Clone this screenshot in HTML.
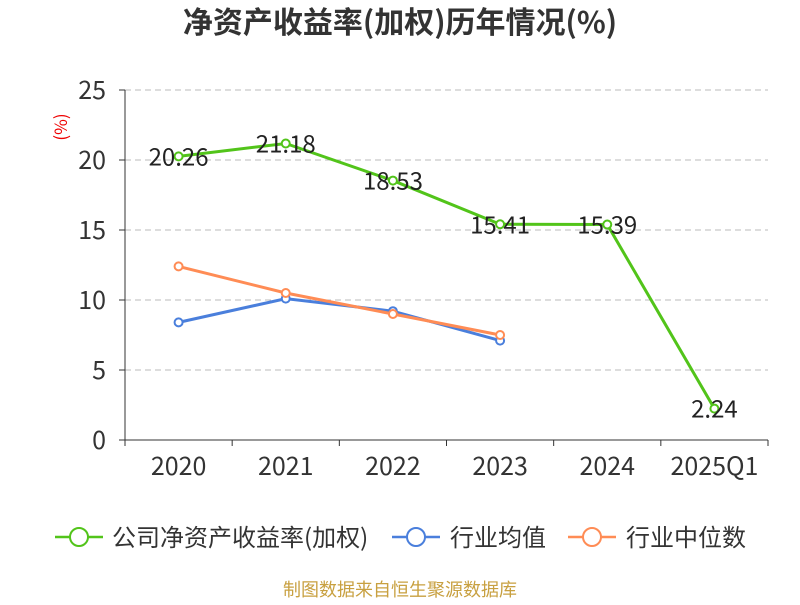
<!DOCTYPE html>
<html><head><meta charset="utf-8"><style>
body{margin:0;background:#fff;font-family:"Noto Sans CJK SC","Liberation Sans",sans-serif;}
</style></head><body>
<svg id="chart" width="800" height="600" xmlns="http://www.w3.org/2000/svg" font-family="Noto Sans CJK SC, Liberation Sans, sans-serif">
<text x="400" y="33" text-anchor="middle" font-size="30" font-weight="bold" fill="#333">净资产收益率(加权)历年情况(%)</text>
<text x="67" y="127" text-anchor="middle" font-size="17" fill="#e00" transform="rotate(-90 67 127)">(%)</text>
<g id="grid"></g><g id="axes"></g><g id="series"></g>
<g font-size="24" fill="#333">
<g><line x1="55" y1="537" x2="103" y2="537" stroke="#52c41a" stroke-width="2.5"/><circle cx="79" cy="537" r="9" fill="#fff" stroke="#52c41a" stroke-width="2"/><text x="112" y="546" fill="#333">公司净资产收益率(加权)</text></g>
<g><line x1="392" y1="537" x2="440" y2="537" stroke="#4a7fdc" stroke-width="2.5"/><circle cx="416" cy="537" r="9" fill="#fff" stroke="#4a7fdc" stroke-width="2"/><text x="450" y="546" fill="#333">行业均值</text></g>
<g><line x1="568" y1="537" x2="616" y2="537" stroke="#ff8c55" stroke-width="2.5"/><circle cx="592" cy="537" r="9" fill="#fff" stroke="#ff8c55" stroke-width="2"/><text x="626" y="546" fill="#333">行业中位数</text></g>
</g>
<text x="400" y="596" text-anchor="middle" font-size="18" fill="#c8a040">制图数据来自恒生聚源数据库</text>
</svg>
<script>
const categories=["2020","2021","2022","2023","2024","2025Q1"];
const companyValues=[20.26,21.18,18.53,15.41,15.39,2.24];
const industryAvg=[8.4,10.1,9.2,7.1];
const industryMedian=[12.4,10.5,9.0,7.5];
const yTicks=[0,5,10,15,20,25];
const NS="http://www.w3.org/2000/svg";
const x0=125,x1=768,y0=440,y1=90,yMax=25;
const bw=(x1-x0)/categories.length;
const xs=i=>x0+bw*(i+0.5);
const ys=v=>y0-(v/yMax)*(y0-y1);
function mk(p,t,a){const e=document.createElementNS(NS,t);for(const k in a)e.setAttribute(k,a[k]);p.appendChild(e);return e;}
const grid=document.getElementById('grid'),axes=document.getElementById('axes'),ser=document.getElementById('series');
yTicks.forEach(v=>{
 if(v>0){const g=mk(grid,'line',{x1:x0,x2:x1,y1:ys(v),y2:ys(v),stroke:'#bbb','stroke-dasharray':'6,4'});
 
 }
 mk(axes,'line',{x1:x0-6,x2:x0,y1:ys(v),y2:ys(v),stroke:'#333'});
 const t=mk(axes,'text',{x:x0-19,y:ys(v)+9,'text-anchor':'end','font-size':25,fill:'#333'});t.textContent=v;
 
 
});
mk(axes,'line',{x1:x0,x2:x0,y1:y1,y2:y0,stroke:'#333'});
mk(axes,'line',{x1:x0,x2:x1,y1:y0,y2:y0,stroke:'#333'});
for(let i=0;i<=categories.length;i++)mk(axes,'line',{x1:x0+bw*i,x2:x0+bw*i,y1:y0,y2:y0+6,stroke:'#333'});
categories.forEach((c,i)=>{const t=mk(axes,'text',{x:xs(i),y:y0+35,'text-anchor':'middle','font-size':25,fill:'#333'});t.textContent=c;
 
 });
function series(vals,color,name,labels){
 const g=mk(ser,'g',{});
 
 
 mk(g,'polyline',{points:vals.map((v,i)=>xs(i)+','+ys(v)).join(' '),fill:'none',stroke:color,'stroke-width':3});
 vals.forEach((v,i)=>{const c=mk(g,'circle',{cx:xs(i),cy:ys(v),r:4,fill:'#fff',stroke:color,'stroke-width':2});
  
  
  if(labels){const t=mk(g,'text',{x:xs(i),y:ys(v)+9,'text-anchor':'middle','font-size':24,fill:'#222'});t.textContent=v.toFixed(2);
   
   }});
}
series(industryAvg,'#4a7fdc','industry-avg-line',false);
series(industryMedian,'#ff8c55','industry-median-line',false);
series(companyValues,'#52c41a','company-roe-line',true);
</script>
</body></html>
